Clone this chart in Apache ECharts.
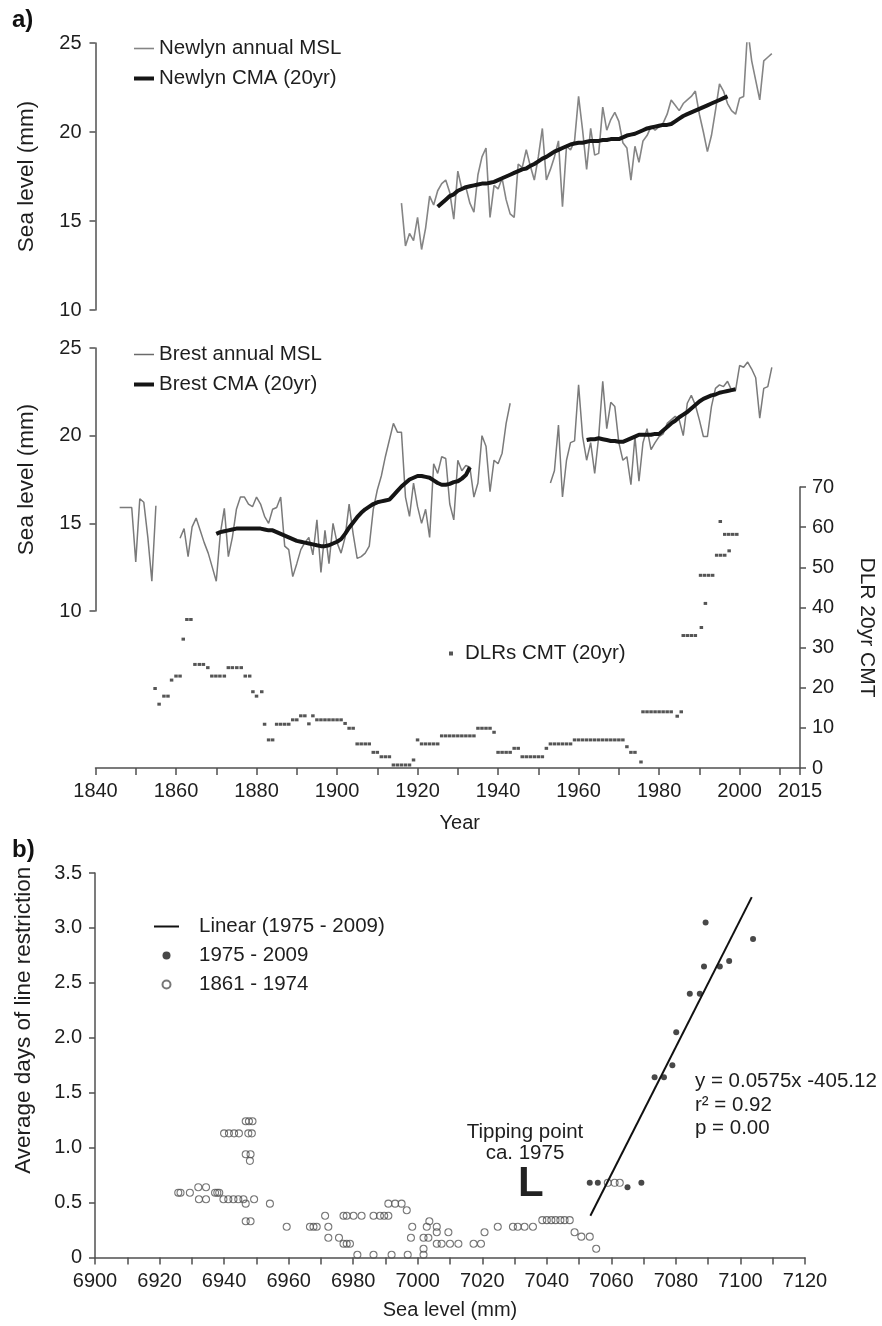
<!DOCTYPE html>
<html><head><meta charset="utf-8">
<script src="https://cdn.jsdelivr.net/npm/echarts@6/dist/echarts.min.js"></script>
<style>html,body{margin:0;padding:0;background:#fff}#c{width:882px;height:1326px}</style>
</head><body><div id="c"></div>
<script>
// ---------- DATA ----------
const yearTicks = [1840,1850,1860,1870,1880,1890,1900,1910,1920,1930,1940,1950,1960,1970,1980,1990,2000,2010,2015];
const yearLabels = [1840,1860,1880,1900,1920,1940,1960,1980,2000,2015];

const newlynStart = 1916;
const newlynMSL = [16.0,13.6,14.3,13.9,15.2,13.4,14.6,16.4,15.9,16.7,
  17.1,17.3,16.6,15.1,17.8,16.8,16.9,16.0,15.5,17.6,
  18.6,19.1,15.2,17.0,16.8,17.4,16.2,15.4,15.2,18.2,
  18.0,19.0,18.1,17.3,18.6,20.2,17.3,17.9,18.6,19.5,
  15.8,19.2,19.0,19.5,22.0,20.1,17.9,20.2,18.7,18.8,
  21.4,20.1,20.7,21.1,20.6,19.4,19.1,17.3,19.2,18.3,
  19.5,19.8,20.3,20.1,20.3,20.5,21.0,21.8,21.5,21.2,
  21.6,21.8,22.0,22.3,21.0,20.0,18.9,19.8,21.2,22.7,
  22.3,21.6,21.2,21.0,21.9,22.0,25.8,24.0,22.9,21.8,
  24.0,24.2,24.4];

const newlynCMAStart = 1925;
const newlynCMA = [15.8,16.0,16.2,16.4,16.5,16.7,16.8,16.9,16.95,17.0,
  17.05,17.1,17.1,17.15,17.2,17.3,17.4,17.5,17.6,17.7,
  17.8,17.9,17.95,18.1,18.2,18.35,18.5,18.6,18.75,18.9,
  19.0,19.1,19.2,19.3,19.35,19.4,19.4,19.45,19.5,19.5,
  19.5,19.55,19.55,19.6,19.6,19.6,19.7,19.8,19.85,19.9,
  20.0,20.1,20.2,20.25,20.3,20.35,20.4,20.4,20.45,20.6,
  20.75,20.9,21.0,21.1,21.2,21.3,21.4,21.5,21.6,21.7,
  21.8,21.9,22.0];

const brestStart = 1846;
const brestMSL = [15.9,15.9,15.9,15.9,12.8,16.4,16.2,14.2,11.7,16.0,
  null,null,null,null,null,
  14.15,14.7,13.1,14.8,15.3,14.6,13.9,13.3,12.5,11.7,
  14.4,15.85,13.1,14.2,15.8,16.5,16.5,16.1,15.95,16.5,
  16.1,15.4,15.0,15.8,15.9,16.5,13.7,13.5,11.96,12.7,
  13.5,13.9,14.2,13.2,15.2,12.2,14.6,12.7,15.0,13.9,
  13.3,14.2,16.1,14.4,13.0,13.1,13.3,13.7,15.8,16.9,
  17.7,18.8,19.75,20.7,20.2,20.2,16.5,15.4,17.3,15.95,
  15.0,15.8,14.2,18.4,17.85,18.8,18.7,16.1,15.2,18.6,
  18.0,18.3,18.2,16.5,17.3,20.0,19.4,16.8,18.6,18.4,
  19.0,20.7,21.85,
  null,null,null,null,null,null,null,null,null,
  17.3,18.0,20.6,16.5,18.6,19.6,19.7,22.9,
  19.95,18.6,19.6,17.85,19.95,23.1,20.4,21.9,21.66,19.6,
  18.6,18.8,17.2,19.95,17.4,19.6,20.4,19.2,19.6,19.95,
  20.1,20.7,20.9,21.1,20.9,20.0,21.85,22.3,21.75,20.9,
  19.95,19.95,21.66,22.7,22.9,22.8,23.1,22.6,22.6,24.0,
  23.9,24.2,23.8,23.3,21.0,22.7,22.8,23.9];

const brestCMA1Start = 1870;
const brestCMA1 = [14.4,14.5,14.55,14.6,14.65,14.7,14.7,14.7,14.7,14.7,
  14.7,14.7,14.65,14.6,14.6,14.5,14.4,14.3,14.2,14.1,
  14.0,13.95,13.9,13.85,13.8,13.75,13.7,13.7,13.75,13.85,
  13.95,14.1,14.4,14.75,15.05,15.35,15.6,15.8,15.95,16.1,
  16.2,16.25,16.3,16.35,16.6,16.85,17.1,17.3,17.5,17.6,
  17.7,17.7,17.65,17.6,17.45,17.3,17.2,17.2,17.25,17.35,
  17.4,17.55,17.75,18.2];
const brestCMA2Start = 1962;
const brestCMA2 = [19.75,19.8,19.8,19.85,19.8,19.75,19.7,19.7,19.65,19.65,
  19.75,19.85,19.95,20.05,20.05,20.05,20.05,20.1,20.1,20.3,
  20.5,20.7,20.85,21.05,21.2,21.35,21.55,21.75,21.95,22.1,
  22.2,22.3,22.35,22.45,22.5,22.55,22.6,22.65];

// DLR 20yr centred moving total: [year, value]
const dlrPoints = [[1854.8,19.8],[1855.8,15.9],[1857,17.9],[1858,17.9],[1858.9,21.9],[1860,22.9],[1861,22.9],
  [1861.8,32.1],[1862.7,37.0],[1863.7,37.0],[1864.7,25.8],[1865.8,25.8],[1866.8,25.8],[1867.9,25.0],
  [1868.9,22.9],[1869.9,22.9],[1870.9,22.9],[1872,22.9],[1873,25.0],[1874,25.0],[1875.1,25.0],[1876.2,25.0],
  [1877.2,22.9],[1878.3,22.9],[1879.1,19.0],[1880,17.9],[1881.3,19.0],[1882,10.9],[1883,7.0],[1884,7.0],
  [1885,10.9],[1886,10.9],[1887,10.9],[1888,10.9],[1889,12.0],[1890,12.0],[1891,13.0],[1892,13.0],
  [1893,11.0],[1894,13.0],[1895,12.0],[1896,12.0],[1897,12.0],[1898,12.0],[1899,12.0],[1900,12.0],[1901,12.0],
  [1902,11.1],[1903,9.9],[1904,9.9],[1905,6.0],[1906,6.0],[1907,6.0],[1908,6.0],[1909,3.9],[1910,3.9],
  [1911,2.8],[1912,2.8],[1913,2.8],[1914,0.75],[1915,0.75],[1916,0.75],[1917,0.75],[1918,0.75],[1919,2.0],
  [1920,7.0],[1921,6.0],[1922,6.0],[1923,6.0],[1924,6.0],[1925,6.0],
  [1926,8.0],[1927,8.0],[1928,8.0],[1929,8.0],[1930,8.0],[1931,8.0],[1932,8.0],[1933,8.0],[1934,8.0],
  [1935,9.9],[1936,9.9],[1937,9.9],[1938,9.9],[1939,8.9],[1940,3.9],[1941,3.9],[1942,3.9],[1943,3.9],
  [1944,4.9],[1945,4.9],[1946,2.8],[1947,2.8],[1948,2.8],[1949,2.8],[1950,2.8],[1951,2.8],[1952,4.9],
  [1953,6.0],[1954,6.0],[1955,6.0],[1956,6.0],[1957,6.0],[1958,6.0],
  [1959,7.0],[1960,7.0],[1961,7.0],[1962,7.0],[1963,7.0],[1964,7.0],[1965,7.0],[1966,7.0],[1967,7.0],
  [1968,7.0],[1969,7.0],[1970,7.0],[1971,7.0],[1972,5.3],[1973,3.9],[1974,3.9],[1975.5,1.5],
  [1976,14.0],[1977,14.0],[1978,14.0],[1979,14.0],[1980,14.0],[1981,14.0],[1982,14.0],[1983,14.0],
  [1984.5,12.9],[1985.5,14.0],[1986,33.0],[1987,33.0],[1988,33.0],[1989,33.0],[1990.5,35.0],[1991.5,41.0],
  [1990.3,48.0],[1991.3,48.0],[1992.3,48.0],[1993.3,48.0],[1994.3,53.0],[1995.3,53.0],[1996.3,53.0],
  [1997.4,54.1],[1995.2,61.4],[1996.3,58.2],[1997.3,58.2],[1998.3,58.2],[1999.3,58.2]];

// panel b: [sea level, average days of line restriction]
const bTicks = [6900,6910,6920,6930,6940,6950,6960,6970,6980,6990,7000,7010,7020,7030,7040,7050,7060,7070,7080,7090,7100,7110,7120];
const bLabels = [6900,6920,6940,6960,6980,7000,7020,7040,7060,7080,7100,7120];
const recentPoints = [[7053.3,0.68],[7055.8,0.68],[7065.0,0.64],[7069.3,0.68],[7073.4,1.64],[7076.3,1.64],
  [7078.9,1.75],[7080.1,2.05],[7084.3,2.40],[7087.4,2.40],[7088.7,2.65],[7089.2,3.05],[7093.6,2.65],
  [7096.5,2.70],[7103.9,2.90]];
const earlyPoints = [[6925.8,0.59],[6926.5,0.59],[6929.4,0.59],[6937.2,0.59],[6937.9,0.59],[6938.5,0.59],
  [6932.0,0.64],[6934.4,0.64],
  [6932.2,0.53],[6934.4,0.53],[6939.8,0.53],[6941.3,0.53],[6942.9,0.53],[6944.4,0.53],[6946.0,0.53],[6949.3,0.53],
  [6946.7,0.49],[6954.2,0.49],[6946.7,0.33],[6948.2,0.33],
  [6946.7,1.24],[6947.7,1.24],[6948.8,1.24],
  [6940.0,1.13],[6941.5,1.13],[6943.1,1.13],[6944.6,1.13],[6947.5,1.13],[6948.6,1.13],
  [6946.7,0.94],[6948.2,0.94],[6948.0,0.88],
  [6959.4,0.28],[6966.6,0.28],[6967.7,0.28],[6968.7,0.28],[6972.3,0.28],
  [6971.3,0.38],[6977.0,0.38],[6978.0,0.38],[6980.1,0.38],[6982.6,0.38],[6986.3,0.38],[6988.3,0.38],[6989.6,0.38],[6990.9,0.38],
  [6990.9,0.49],[6993.0,0.49],[6995.0,0.49],[6996.6,0.43],[6998.3,0.28],
  [6972.3,0.18],[6975.6,0.18],[6997.9,0.18],[7001.8,0.18],[7003.3,0.18],
  [6977.0,0.125],[6978.0,0.125],[6979.0,0.125],
  [6981.3,0.025],[6986.3,0.025],[6991.9,0.025],[6996.9,0.025],[7001.8,0.025],[7001.8,0.08],
  [7003.6,0.33],[7002.8,0.28],[7005.9,0.28],[7005.9,0.23],[7009.5,0.23],
  [7005.9,0.125],[7007.4,0.125],[7010.0,0.125],[7012.6,0.125],[7017.3,0.125],
  [7019.6,0.125],[7020.7,0.23],
  [7024.8,0.28],[7029.5,0.28],[7031.0,0.28],[7033.1,0.28],[7035.7,0.28],
  [7038.6,0.34],[7040.0,0.34],[7041.4,0.34],[7042.7,0.34],[7044.2,0.34],[7045.5,0.34],[7047.1,0.34],
  [7048.6,0.23],[7050.7,0.19],[7053.3,0.19],[7055.3,0.08],
  [7058.9,0.68],[7061.0,0.68],[7062.6,0.68]];
// fitted line (1975-2009) end points as drawn
const fitLine = [[7053.5,0.38],[7103.5,3.28]];

// ---------- CHART ----------
function pairs(start, vals){ return vals.map((v,i)=>[start+i, v]); }
const FONT = "'Liberation Sans', Arial, sans-serif";
const TXT = '#1e1e1e';
const AX = '#505050';
const tickFont = {color:TXT, fontSize:20, fontFamily:FONT};
const nameFont = {color:TXT, fontSize:20, fontFamily:FONT};
const yNameFont = {color:TXT, fontSize:22.5, fontFamily:FONT};
const legFont = {color:TXT, fontSize:20.5, fontFamily:FONT};
const axLine = {show:true, lineStyle:{color:AX, width:1.5}};
const axTick = {show:true, length:6, lineStyle:{color:AX, width:1.5}};
const plain = v => String(v);
const lineOnly = (name, w, c) => ({name:name, itemStyle:{opacity:0, color:'rgba(0,0,0,0)', borderWidth:0},
  lineStyle:{width:w, color:c}});

const brestCMAData = pairs(brestCMA1Start, brestCMA1).concat([[1948,null]], pairs(brestCMA2Start, brestCMA2));

const chart = echarts.init(document.getElementById('c'));
chart.setOption({
  animation:false,
  backgroundColor:'#fff',
  textStyle:{fontFamily:FONT},
  grid:[
    {left:95.5, top:43, width:704.5, height:267, outerBoundsMode:'none'},
    {left:95.5, top:348, width:704.5, height:263, outerBoundsMode:'none'},
    {left:95.5, top:487, width:704.5, height:281, outerBoundsMode:'none'},
    {left:95, top:873, width:710, height:384.5, outerBoundsMode:'none'}
  ],
  xAxis:[
    {type:'value', gridIndex:0, min:1840, max:2015, show:false},
    {type:'value', gridIndex:1, min:1840, max:2015, show:false},
    {type:'value', gridIndex:2, min:1840, max:2015, position:'bottom',
      splitLine:{show:false}, axisLine:axLine,
      axisTick:Object.assign({}, axTick, {customValues:yearTicks, length:7}),
      axisLabel:Object.assign({}, tickFont, {customValues:yearLabels, margin:13, formatter:plain}),
      name:'Year', nameLocation:'middle', nameGap:45,
      nameTextStyle:Object.assign({}, nameFont, {padding:[0,0,0,24]})},
    {type:'value', gridIndex:3, min:6900, max:7120, interval:10,
      splitLine:{show:false}, axisLine:axLine,
      axisTick:Object.assign({}, axTick, {customValues:bTicks, length:7}),
      axisLabel:Object.assign({}, tickFont, {customValues:bLabels, margin:14, formatter:plain}),
      name:'Sea level (mm)', nameLocation:'middle', nameGap:43, nameTextStyle:nameFont}
  ],
  yAxis:[
    {type:'value', gridIndex:0, min:10, max:25, interval:5, splitLine:{show:false},
      axisLine:axLine, axisTick:axTick, axisLabel:Object.assign({}, tickFont, {margin:14, formatter:plain}),
      name:'Sea level (mm)', nameLocation:'middle', nameGap:57, nameTextStyle:yNameFont},
    {type:'value', gridIndex:1, min:10, max:25, interval:5, splitLine:{show:false},
      axisLine:axLine, axisTick:axTick, axisLabel:Object.assign({}, tickFont, {margin:14, formatter:plain}),
      name:'Sea level (mm)', nameLocation:'middle', nameGap:57, nameTextStyle:yNameFont},
    {type:'value', gridIndex:2, position:'right', min:0, max:70, interval:10, splitLine:{show:false},
      axisLine:axLine, axisTick:axTick, axisLabel:Object.assign({}, tickFont, {margin:12, formatter:plain}),
      name:'DLR 20yr CMT', nameLocation:'middle', nameGap:56, nameRotate:-90,
      nameTextStyle:{color:TXT, fontSize:21, fontFamily:FONT}},
    {type:'value', gridIndex:3, min:0, max:3.5, interval:0.5, splitLine:{show:false},
      axisLine:axLine, axisTick:axTick,
      axisLabel:Object.assign({}, tickFont, {margin:13, formatter:v => v === 0 ? '0' : v.toFixed(1)}),
      name:'Average days of line restriction', nameLocation:'middle', nameGap:60,
      nameTextStyle:Object.assign({}, yNameFont, {padding:[0,0,0,90]})}
  ],
  legend:[
    {left:127, top:33, orient:'vertical', itemWidth:20, itemHeight:10, itemGap:9,
      textStyle:legFont, selectedMode:false,
      data:[lineOnly('Newlyn annual MSL', 1.6, '#858585'), lineOnly('Newlyn CMA (20yr)', 4, '#151515')]},
    {left:127, top:339, orient:'vertical', itemWidth:20, itemHeight:10, itemGap:9,
      textStyle:legFont, selectedMode:false,
      data:[lineOnly('Brest annual MSL', 1.5, '#6a6a6a'), lineOnly('Brest CMA (20yr)', 4, '#151515')]},
    {left:444, top:638, orient:'vertical', itemWidth:4, itemHeight:4,
      textStyle:Object.assign({}, legFont, {rich:{t:{fontSize:20.5, fontFamily:FONT, color:TXT, padding:[0,0,0,7]}}}),
      formatter:n => '{t|' + n + '}', data:['DLRs CMT (20yr)'], selectedMode:false},
    {left:148, top:911, orient:'vertical', itemWidth:25, itemHeight:8, itemGap:8,
      textStyle:Object.assign({}, legFont, {rich:{t:{fontSize:20.5, fontFamily:FONT, color:TXT, padding:[0,0,0,15]}}}),
      formatter:n => '{t|' + n + '}', selectedMode:false,
      data:[lineOnly('Linear (1975 - 2009)', 2, '#111'),'1975 - 2009','1861 - 1974']}
  ],
  series:[
    {name:'Newlyn annual MSL', type:'line', xAxisIndex:0, yAxisIndex:0, symbol:'none',
      lineStyle:{color:'#858585', width:1.6}, itemStyle:{color:'#858585'},
      data:pairs(newlynStart, newlynMSL)},
    {name:'Newlyn CMA (20yr)', type:'line', xAxisIndex:0, yAxisIndex:0, symbol:'none',
      lineStyle:{color:'#151515', width:4}, itemStyle:{color:'#151515'},
      data:pairs(newlynCMAStart, newlynCMA)},
    {name:'Brest annual MSL', type:'line', xAxisIndex:1, yAxisIndex:1, symbol:'none', connectNulls:false,
      lineStyle:{color:'#7a7a7a', width:1.5}, itemStyle:{color:'#7a7a7a'},
      data:pairs(brestStart, brestMSL)},
    {name:'Brest CMA (20yr)', type:'line', xAxisIndex:1, yAxisIndex:1, symbol:'none', connectNulls:false,
      lineStyle:{color:'#151515', width:4}, itemStyle:{color:'#151515'},
      data:brestCMAData},
    {name:'DLRs CMT (20yr)', type:'scatter', xAxisIndex:2, yAxisIndex:2, symbol:'rect', symbolSize:[3.5,3],
      itemStyle:{color:'#2a2a2a'}, data:dlrPoints},
    {name:'1861 - 1974', type:'scatter', xAxisIndex:3, yAxisIndex:3, symbol:'circle', symbolSize:7,
      itemStyle:{color:'rgba(255,255,255,0)', borderColor:'#555', borderWidth:1.1}, data:earlyPoints},
    {name:'1975 - 2009', type:'scatter', xAxisIndex:3, yAxisIndex:3, symbol:'circle', symbolSize:6,
      itemStyle:{color:'#1a1a1a'}, data:recentPoints},
    {name:'Linear (1975 - 2009)', type:'line', xAxisIndex:3, yAxisIndex:3, symbol:'none',
      lineStyle:{color:'#111', width:2}, itemStyle:{color:'#111'}, data:fitLine}
  ],
  graphic:[
    {type:'text', left:12, top:8, style:{text:'a)', font:"bold 24px 'Liberation Sans', Arial, sans-serif", fill:'#111'}},
    {type:'text', left:12, top:838, style:{text:'b)', font:"bold 24px 'Liberation Sans', Arial, sans-serif", fill:'#111'}},
    {type:'text', x:525, y:1132, style:{text:'Tipping point', textAlign:'center', textVerticalAlign:'middle', font:"20.5px 'Liberation Sans', Arial, sans-serif", fill:TXT}},
    {type:'text', x:525, y:1153, style:{text:'ca. 1975', textAlign:'center', textVerticalAlign:'middle', font:"20.5px 'Liberation Sans', Arial, sans-serif", fill:TXT}},
    {type:'text', x:518, y:1205, style:{text:'L', textAlign:'left', textVerticalAlign:'bottom', font:"bold 42px 'Liberation Sans', Arial, sans-serif", fill:'#222'}},
    {type:'text', x:695, y:1081, style:{text:'y = 0.0575x -405.12', textAlign:'left', textVerticalAlign:'middle', font:"20.5px 'Liberation Sans', Arial, sans-serif", fill:TXT}},
    {type:'text', x:695, y:1105, style:{text:'r\u00B2 = 0.92', textAlign:'left', textVerticalAlign:'middle', font:"20.5px 'Liberation Sans', Arial, sans-serif", fill:TXT}},
    {type:'text', x:695, y:1128, style:{text:'p = 0.00', textAlign:'left', textVerticalAlign:'middle', font:"20.5px 'Liberation Sans', Arial, sans-serif", fill:TXT}}
  ]
});
</script></body></html>
